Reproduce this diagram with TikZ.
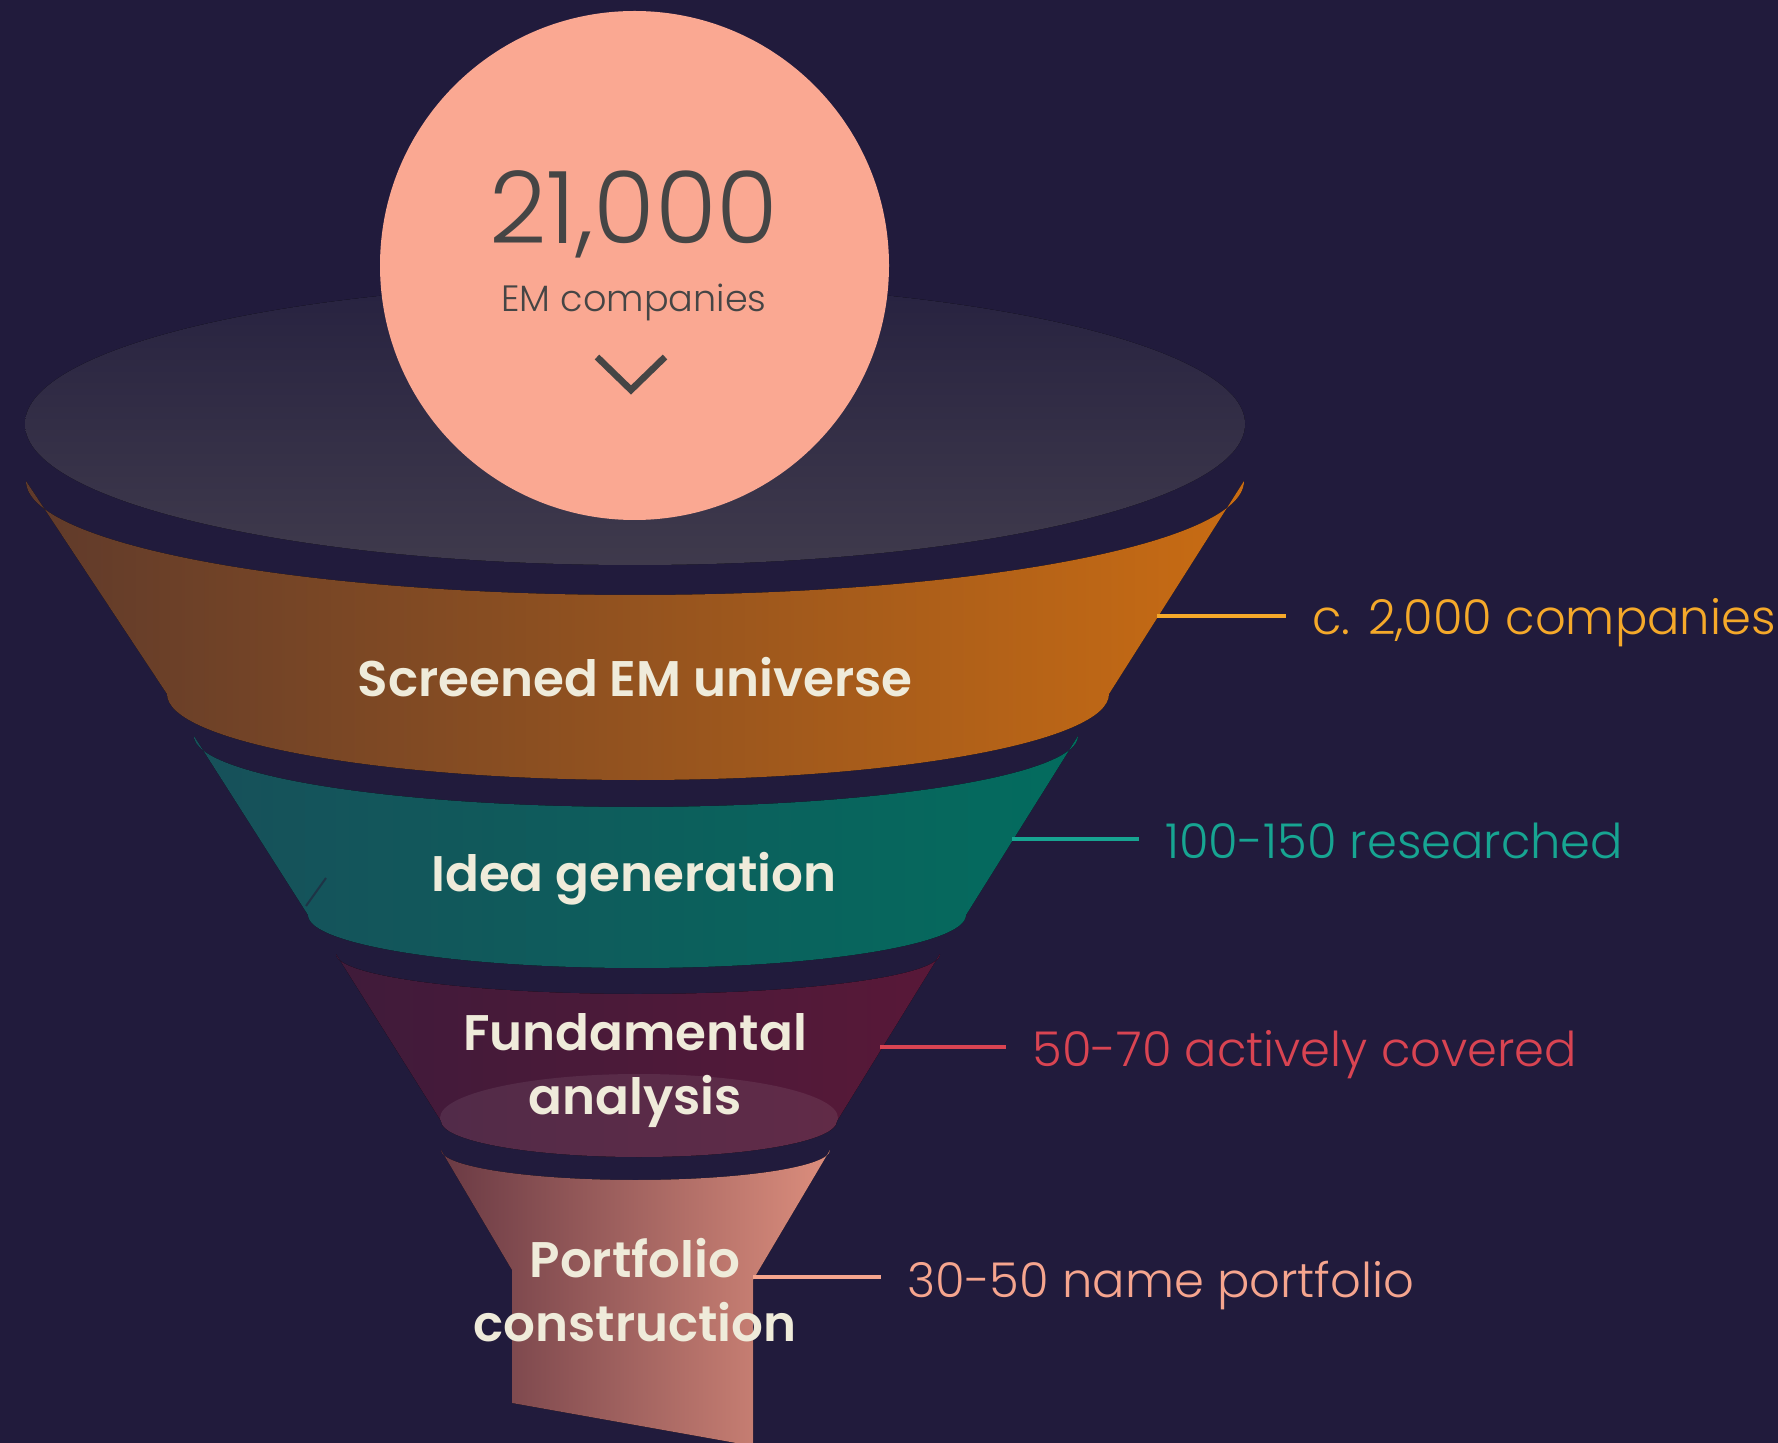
\documentclass[tikz,border=0pt]{standalone}
\usepackage{fontspec}
\usetikzlibrary{shapes.geometric}
\setmainfont{Poppins}
\IfFontExistsTF{Poppins SemiBold}
  {\newfontfamily\bandfont{Poppins SemiBold}}
  {\newfontfamily\bandfont{Poppins}[FakeBold=2]}
\IfFontExistsTF{Poppins Light}
  {\newfontfamily\thinfont{Poppins Light}}
  {\newfontfamily\thinfont{Poppins}}

\definecolor{bg}{HTML}{211B3C}
\definecolor{rimtop}{HTML}{272240}
\definecolor{rimbot}{HTML}{3F3A4C}
\definecolor{peach}{HTML}{FAA892}
\definecolor{ink}{HTML}{454545}
\definecolor{cream}{HTML}{EFEBDA}
\definecolor{orL}{HTML}{5F3A2B}
\definecolor{orR}{HTML}{C96C13}
\definecolor{tlL}{HTML}{17505A}
\definecolor{tlR}{HTML}{036C5E}
\definecolor{mrL}{HTML}{3E1B3A}
\definecolor{mrR}{HTML}{5A1838}
\definecolor{smL}{HTML}{6A3A44}
\definecolor{smR}{HTML}{DC8E7D}
\definecolor{slash}{HTML}{1E3446}
\definecolor{yellowc}{HTML}{F5A92A}
\definecolor{tealc}{HTML}{17A592}
\definecolor{redc}{HTML}{D94452}
\definecolor{salmonc}{HTML}{F6A58E}

\begin{document}
\begin{tikzpicture}[x=0.5pt,y=-0.5pt,
  bandlabel/.style={text=cream, font=\bandfont\fontsize{25}{32}\selectfont,
    align=center, inner sep=0, anchor=base},
  countlabel/.style={font=\thinfont\fontsize{24}{28}\selectfont,
    anchor=base west, inner sep=0},
  leader/.style={line width=2pt, shorten >=13pt}]

% canvas
\fill[bg] (0,0) rectangle (1778,1443);
\useasboundingbox (0,0) rectangle (1778,1443);

% funnel rim
\fill[top color=rimtop, bottom color=rimbot] (635,424) ellipse [x radius=610, y radius=141];

% stage 1: screened universe
\fill[left color=orL, right color=orR]
  (26,481) -- (167,694) arc[start angle=180, end angle=0, x radius=471, y radius=86]
  -- (1244,481) arc[start angle=0, end angle=180, x radius=609, y radius=114] -- cycle;

% stage 2: idea generation
\fill[left color=tlL, right color=tlR]
  (194,736) -- (308,915) arc[start angle=180, end angle=0, x radius=329, y radius=53]
  -- (1078,736) arc[start angle=0, end angle=180, x radius=442, y radius=71] -- cycle;
\draw[slash, line width=1pt] (306,906) -- (326,878);

% stage 3: fundamental analysis
\begin{scope}
  \path[clip]
    (336,954) -- (441,1121) arc[start angle=180, end angle=0, x radius=198, y radius=36]
    -- (940,954) arc[start angle=0, end angle=180, x radius=302, y radius=40] -- cycle;
  \fill[left color=mrL, right color=mrR] (300,940) rectangle (980,1170);
  \fill[white, opacity=0.08] (639,1118) ellipse [x radius=199, y radius=44];
\end{scope}

% stage 4: portfolio construction (spout)
\fill[left color=smL, right color=smR]
  (441,1150) -- (512,1270) -- (512,1403) -- (753,1446) -- (753,1280)
  -- (830,1150) arc[start angle=0, end angle=180, x radius=194.5, y radius=30] -- cycle;

% starting universe
\node (pool) [circle, fill=peach, minimum size=254.5pt, inner sep=0] at (634.5,265.5) {};
\node (count) [anchor=base, inner sep=0, text=ink, font=\thinfont\fontsize{50}{54}\selectfont]
  at (634,244) {21,000};
\node (unit) [anchor=base, inner sep=0, text=ink, font=\thinfont\fontsize{18.3}{22}\selectfont]
  at (634,312) {EM companies};
\draw[ink, line width=3.3pt] (597,357) -- (631,390) -- (665,357);

% stage names
\node (screen) [bandlabel] at (635,697) {Screened EM universe};
\node (idea)   [bandlabel] at (634,891) {Idea generation};
\node (fund)   [bandlabel] at (635,1114) {Fundamental\\analysis};
\node (port)   [bandlabel] at (635,1341) {Portfolio\\construction};

% counts with leader lines
\coordinate (e1) at (1157,616);
\node (n1) [countlabel, text=yellowc] at (1312,635) {c. 2,000 companies};
\draw[leader, yellowc] (e1) -- (e1 -| n1.west);

\coordinate (e2) at (1012,839);
\node (n2) [countlabel, text=tealc] at (1165,858) {100-150 researched};
\draw[leader, tealc] (e2) -- (e2 -| n2.west);

\coordinate (e3) at (880,1047);
\node (n3) [countlabel, text=redc] at (1032,1066) {50-70 actively covered};
\draw[leader, redc] (e3) -- (e3 -| n3.west);

\coordinate (e4) at (753,1277);
\node (n4) [countlabel, text=salmonc] at (907,1297) {30-50 name portfolio};
\draw[leader, salmonc] (e4) -- (e4 -| n4.west);
\end{tikzpicture}
\end{document}
